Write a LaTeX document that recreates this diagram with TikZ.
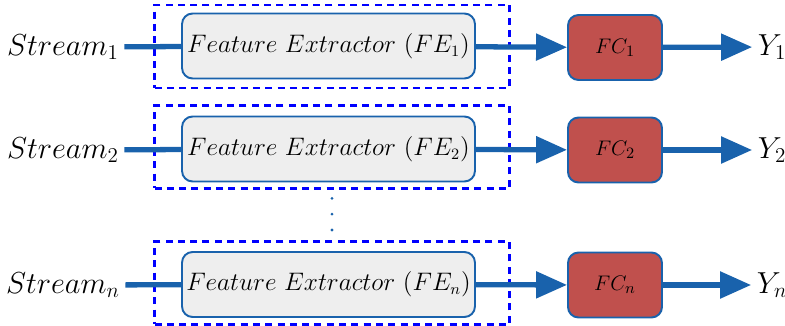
\documentclass[tikz,border=0pt]{standalone}
\usepackage{amssymb}
\usetikzlibrary{arrows.meta,positioning,calc}

\definecolor{lineblue}{RGB}{25,98,172}
\definecolor{fcred}{RGB}{192,80,77}
\definecolor{fegray}{RGB}{238,238,238}

\tikzset{
    febox/.style={draw=lineblue, line width=1.1pt, fill=fegray, rounded corners=6pt,
        minimum width=5.86cm, minimum height=1.3cm, inner sep=0pt,
        font=\fontsize{13.3}{16}\selectfont},
    fcbox/.style={draw=lineblue, line width=1.1pt, fill=fcred, rounded corners=6pt,
        minimum width=1.88cm, minimum height=1.3cm, inner sep=0pt,
        font=\fontsize{13}{16}\selectfont},
    groupbox/.style={draw=blue, line width=1.2pt, dash pattern=on 4pt off 3pt,
        minimum width=7.1cm, minimum height=1.66cm, inner sep=0pt},
    flow/.style={draw=lineblue, line width=3pt},
    flowarrow/.style={flow, -{Triangle[length=0.62cm,width=0.52cm]}},
    lbl/.style={font=\fontsize{17}{20}\selectfont, inner sep=3pt}
}

\begin{document}
\begin{tikzpicture}[x=0.02cm,y=-0.02cm]
            \useasboundingbox (0,0) rectangle (785,325);

            % streams
            \node[lbl] (S1) at (63,47) {$Stream_1$};
            \node[lbl] (S2) at (63,150) {$Stream_2$};
            \node[lbl] (Sn) at (63,285) {$Stream_n$};

            % dashed groups
            \node[groupbox] (G1) at (332,46.5) {};
            \node[groupbox] (G2) at (332,147) {};
            \node[groupbox] (Gn) at (332,283) {};

            % feature extractors
            \node[febox] (FE1) at (328.5,46) {$Feature\ Extractor\ (FE_1)$};
            \node[febox] (FE2) at (328.5,149) {$Feature\ Extractor\ (FE_2)$};
            \node[febox] (FEn) at (328.5,284.5) {$Feature\ Extractor\ (FE_n)$};

            % classifiers
            \node[fcbox] (FC1) at (615,47.5) {$FC_1$};
            \node[fcbox] (FC2) at (615,150) {$FC_2$};
            \node[fcbox] (FCn) at (615,285) {$FC_n$};

            % outputs
            \node[lbl] (Y1) at (772,47) {$Y_1$};
            \node[lbl] (Y2) at (772,150) {$Y_2$};
            \node[lbl] (Yn) at (772,285) {$Y_n$};

            \foreach \i in {1,2,n} {
                \draw[flow] (S\i) -- (FE\i);
                \draw[flowarrow] (FE\i) -- (FC\i);
                \draw[flowarrow] (FC\i) -- (Y\i);
            }

            \draw[lineblue, line width=1.8pt, line cap=round, dash pattern=on 0pt off 9pt]
                ([yshift=-5pt]G2.south) -- ([yshift=5pt]Gn.north);
        \end{tikzpicture}
\end{document}
